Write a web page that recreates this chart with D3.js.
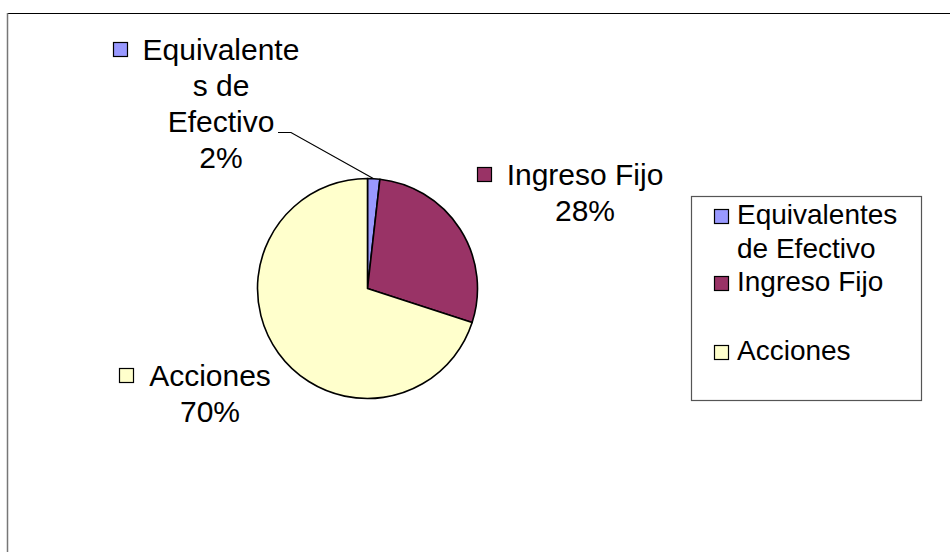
<!DOCTYPE html>
<html>
<head>
<meta charset="utf-8">
<script src="https://cdn.jsdelivr.net/npm/d3@7"></script>
<style>
  html, body { margin: 0; padding: 0; background: #fff; }
  svg { display: block; font-family: "Liberation Sans", Arial, sans-serif; }
</style>
</head>
<body>
<div id="chart"></div>
<script>
// datos del gráfico
const categories = ["Equivalentes de Efectivo", "Ingreso Fijo", "Acciones"];
const values = [1.8, 28.2, 70];
const percentLabels = ["2%", "28%", "70%"];
const colors = ["#9999FF", "#993366", "#FFFFCC"];
// etiquetas de datos partidas en líneas como en el original
const labelLines = [["Equivalente", "s de", "Efectivo"], ["Ingreso Fijo"], ["Acciones"]];
const legendLines = [["Equivalentes", "de Efectivo"], ["Ingreso Fijo"], ["Acciones"]];

const width = 950, height = 552;
const cx = 367.5, cy = 288.5, radius = 110;

const svg = d3.select("#chart").append("svg")
  .attr("width", width)
  .attr("height", height);

// marco del área del gráfico (sólo arriba e izquierda visibles)
svg.append("line").attr("x1", 7).attr("x2", width).attr("y1", 13.5).attr("y2", 13.5)
  .attr("stroke", "#000").attr("stroke-width", 1.2);
svg.append("line").attr("x1", 7.5).attr("x2", 7.5).attr("y1", 13).attr("y2", height)
  .attr("stroke", "#777").attr("stroke-width", 1.5);

const pie = d3.pie().sort(null).value(d => d);
const arcs = pie(values);
const arc = d3.arc().innerRadius(0).outerRadius(radius);

const g = svg.append("g").attr("transform", `translate(${cx},${cy})`);

g.selectAll("path")
  .data(arcs)
  .join("path")
  .attr("d", arc)
  .attr("fill", (d, i) => colors[i])
  .attr("stroke", "#000")
  .attr("stroke-width", 1.6)
  .attr("stroke-linejoin", "round");

// posiciones de las etiquetas (centro x, primera línea base y)
const labelLayout = [
  { x: 221, y: 60, lh: 36 },
  { x: 585, y: 185, lh: 36 },
  { x: 210, y: 386, lh: 36 }
];

const labelFont = 30;
const keySize = 15;

arcs.forEach((a, i) => {
  const lay = labelLayout[i];
  const lines = labelLines[i].concat([percentLabels[i]]);
  const grp = svg.append("g");
  let firstText = null;
  lines.forEach((t, j) => {
    const txt = grp.append("text")
      .attr("x", lay.x)
      .attr("y", lay.y + j * lay.lh)
      .attr("text-anchor", "middle")
      .attr("font-size", labelFont)
      .attr("fill", "#000")
      .text(t);
    if (j === 0) firstText = txt;
  });
  // clave de leyenda junto a la primera línea
  const w = firstText.node().getComputedTextLength();
  const startX = lay.x - w / 2;
  grp.append("rect")
    .attr("x", Math.round(startX - 15 - keySize) + 0.5)
    .attr("y", lay.y - 18 + 0.5)
    .attr("width", keySize - 1)
    .attr("height", keySize - 1)
    .attr("fill", colors[i])
    .attr("stroke", "#000")
    .attr("stroke-width", 1.2);
});

// línea guía para la porción pequeña
{
  const a = arcs[0];
  const mid = (a.startAngle + a.endAngle) / 2;
  const px = cx + Math.sin(mid) * radius;
  const py = cy - Math.cos(mid) * radius;
  svg.append("polyline")
    .attr("points", [[278, 132.5], [291, 132.5], [px, py]].map(p => p.join(",")).join(" "))
    .attr("fill", "none")
    .attr("stroke", "#000")
    .attr("stroke-width", 1.2);
}

// leyenda
const legend = svg.append("g");
legend.append("rect")
  .attr("x", 691.5).attr("y", 196.5)
  .attr("width", 230).attr("height", 204)
  .attr("fill", "#fff")
  .attr("stroke", "#555")
  .attr("stroke-width", 1.2);

const legendBaselines = [224, 291, 360];
const legendLh = 34;
categories.forEach((c, i) => {
  const by = legendBaselines[i];
  legend.append("rect")
    .attr("x", 714.5).attr("y", by - 15 + 0.5)
    .attr("width", 14).attr("height", 14)
    .attr("fill", colors[i])
    .attr("stroke", "#000")
    .attr("stroke-width", 1.2);
  legendLines[i].forEach((t, j) => {
    legend.append("text")
      .attr("x", 737)
      .attr("y", by + j * legendLh)
      .attr("font-size", 28)
      .attr("fill", "#000")
      .text(t);
  });
});
</script>
</body>
</html>
